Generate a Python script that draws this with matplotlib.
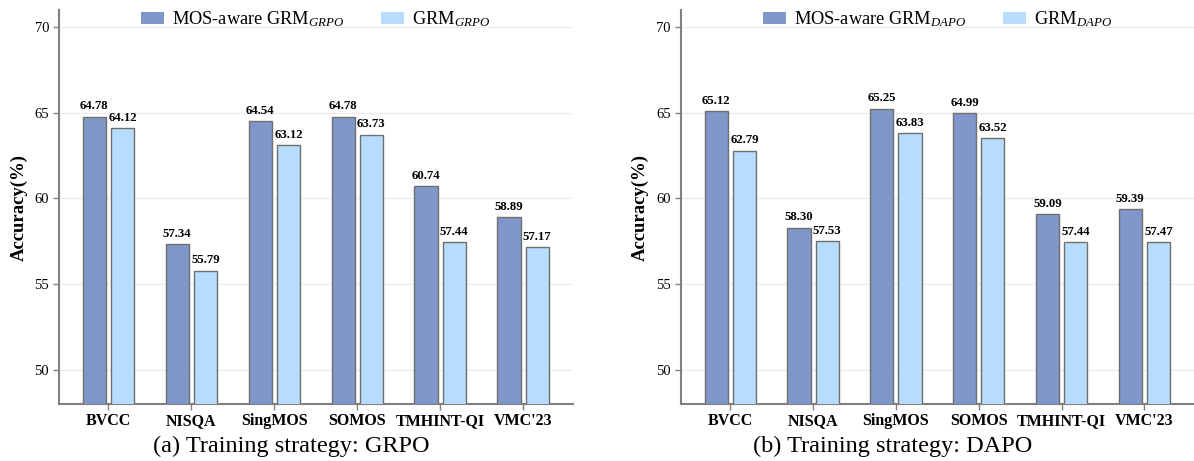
import numpy as np
import matplotlib
matplotlib.use("Agg")
import matplotlib.pyplot as plt
from matplotlib.patches import Patch

plt.rcParams['font.family'] = ['Liberation Serif', 'DejaVu Serif']
plt.rcParams['mathtext.fontset'] = 'custom'
plt.rcParams['mathtext.rm'] = 'Liberation Serif'
plt.rcParams['mathtext.it'] = 'Liberation Serif:italic'

categories = ["BVCC", "NISQA", "SingMOS", "SOMOS", "TMHINT-QI", "VMC'23"]
grpo_mos = [64.78, 57.34, 64.54, 64.78, 60.74, 58.89]
grpo_base = [64.12, 55.79, 63.12, 63.73, 57.44, 57.17]
dapo_mos = [65.12, 58.30, 65.25, 64.99, 59.09, 59.39]
dapo_base = [62.79, 57.53, 63.83, 63.52, 57.44, 57.47]
yticks = [50, 55, 60, 65, 70]

panels = [
    (grpo_mos, grpo_base, "MOS-aware GRM$_{\\mathit{GRPO}}$", "GRM$_{\\mathit{GRPO}}$",
     "(a) Training strategy: GRPO"),
    (dapo_mos, dapo_base, "MOS-aware GRM$_{\\mathit{DAPO}}$", "GRM$_{\\mathit{DAPO}}$",
     "(b) Training strategy: DAPO"),
]

dark = "#7f97c9"
light = "#b8dcfd"
edge = "#6f6f6f"
spine_c = "#808080"

fig = plt.figure(figsize=(11.94, 4.61), dpi=100)
axes_pos = [[0.0492, 0.1236, 0.4305, 0.8547], [0.5701, 0.1236, 0.4299, 0.8547]]
caption_x = [291 / 1194, 893 / 1194]

x = np.arange(len(categories))
w = 0.28
off = 0.17
for i, (mos, base, lab1, lab2, cap) in enumerate(panels):
    ax = fig.add_axes(axes_pos[i])
    b1 = ax.bar(x - off, mos, w, bottom=0, color=dark, edgecolor=edge, linewidth=1.0,
                zorder=3)
    b2 = ax.bar(x + off, base, w, bottom=0, color=light, edgecolor=edge, linewidth=1.0,
                zorder=3)
    for bars, vals in ((b1, mos), (b2, base)):
        for r, v in zip(bars, vals):
            ax.annotate(f"{v:.2f}", (r.get_x() + r.get_width() / 2, v),
                        xytext=(0, 3), textcoords="offset points",
                        ha="center", va="bottom", fontsize=9.2, fontweight="bold",
                        zorder=4)
    ax.set_ylim(48, 71)
    ax.set_xlim(-0.6, len(categories) - 0.4)
    ax.set_yticks(yticks)
    ax.set_xticks(x)
    ax.set_xticklabels(categories, fontsize=11.5, fontweight="bold")
    ax.tick_params(axis="y", labelsize=10.5, length=4, width=1, color=spine_c, pad=3)
    ax.tick_params(axis="x", length=4, width=1, color=spine_c, pad=2.5)
    ax.grid(axis="y", color="#ececec", linewidth=1, zorder=0)
    ax.set_axisbelow(True)
    for s in ("top", "right"):
        ax.spines[s].set_visible(False)
    for s in ("left", "bottom"):
        ax.spines[s].set_color(spine_c)
        ax.spines[s].set_linewidth(1.5)
    ax.set_ylabel("Accuracy(%)", fontsize=13.5, fontweight="bold", labelpad=5)
    handles = [Patch(facecolor=dark, edgecolor="none", label=lab1),
               Patch(facecolor=light, edgecolor="none", label=lab2)]
    ax.legend(handles=handles, loc="upper center", bbox_to_anchor=(0.5, 1.02), ncol=2,
              frameon=False, fontsize=13.2, handlelength=1.25, handleheight=0.66,
              columnspacing=2.0, handletextpad=0.45, borderaxespad=0)
    fig.text(caption_x[i], 1 - 446 / 461, cap, ha="center", va="center", fontsize=17.5)

fig.savefig("out.png", dpi=100)
